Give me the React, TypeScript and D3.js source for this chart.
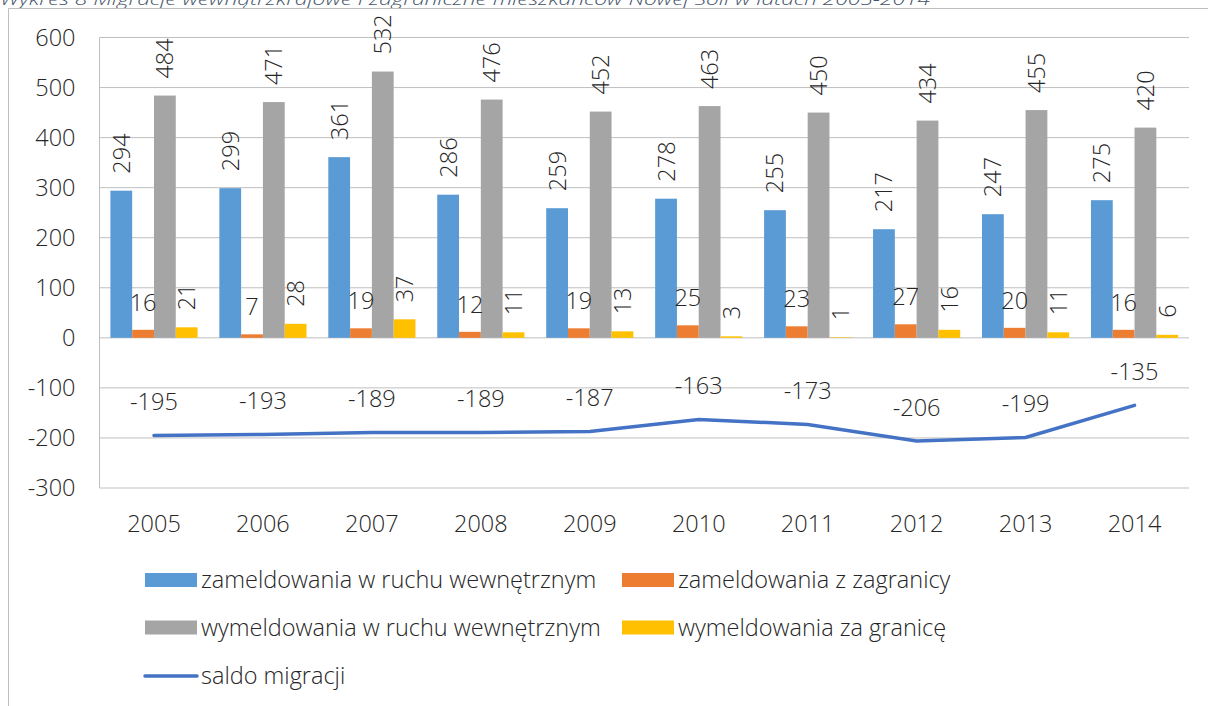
import React from 'react';
import * as d3 from 'd3';

const years = ['2005', '2006', '2007', '2008', '2009', '2010', '2011', '2012', '2013', '2014'];
const zamWew = [294, 299, 361, 286, 259, 278, 255, 217, 247, 275];
const zamZag = [16, 7, 19, 12, 19, 25, 23, 27, 20, 16];
const wymWew = [484, 471, 532, 476, 452, 463, 450, 434, 455, 420];
const wymZag = [21, 28, 37, 11, 13, 3, 1, 16, 11, 6];
const saldo = [-195, -193, -189, -189, -187, -163, -173, -206, -199, -135];
const yTicks = [600, 500, 400, 300, 200, 100, 0, -100, -200, -300];
const seriesNames = [
  'zameldowania w ruchu wewnętrznym',
  'zameldowania z zagranicy',
  'wymeldowania w ruchu wewnętrznym',
  'wymeldowania za granicę',
];
const lineName = 'saldo migracji';
const title = 'Wykres 8 Migracje wewnątrzkrajowe i zagraniczne mieszkańców Nowej Soli w latach 2005-2014';

const colors = ['#5B9BD5', '#ED7D31', '#A5A5A5', '#FFC000'];
const lineColor = '#4472C4';
const FONT = '"Open Sans", sans-serif';
const TXT = '#262626';

export default function App() {
  const W = 1208, H = 706;
  const left = 99.5, right = 1189, top = 37.5, bottom = 488;
  const y = d3.scaleLinear().domain([-300, 600]).range([bottom, top]);
  const x0 = d3.scaleBand<string>().domain(years).range([left, right]).paddingInner(0.2).paddingOuter(0.1);
  const keys = ['a', 'b', 'c', 'd'];
  const x1 = d3.scaleBand<string>().domain(keys).range([0, x0.bandwidth()]);
  const series = [zamWew, zamZag, wymWew, wymZag];
  const cx = (i: number) => (x0(years[i]) as number) + x0.bandwidth() / 2;
  const line = d3.line<number>().x((_, i) => cx(i)).y((d) => y(d));
  const fs = 23.5;
  const fw = 300;

  const legendItems = [
    { c: colors[0], t: seriesNames[0], x: 145, base: 588 },
    { c: colors[1], t: seriesNames[1], x: 622, base: 588 },
    { c: colors[2], t: seriesNames[2], x: 145, base: 635.5 },
    { c: colors[3], t: seriesNames[3], x: 622, base: 635.5 },
  ];

  return (
    <svg width={W} height={H} style={{ position: 'absolute', left: 0, top: 0, background: '#fff' }} fontFamily={FONT} fontWeight={fw}>
      <text x={0} y={5} fontSize={17} fontStyle="italic" fill="#44546A" textLength={930} lengthAdjust="spacingAndGlyphs">{title}</text>
      <path d={`M8.5,${H} V8.5 H${W}`} fill="none" stroke="#BFBFBF" strokeWidth={1} />
      {yTicks.map((t) => (
        <line key={t} x1={left} x2={right} y1={y(t)} y2={y(t)} stroke="#BFBFBF" strokeWidth={1} />
      ))}
      <line x1={left} x2={left} y1={top} y2={bottom} stroke="#BFBFBF" strokeWidth={1} />
      {yTicks.map((t) => (
        <text key={t} x={75.5} y={y(t)} dy="0.36em" textAnchor="end" fontSize={fs} fill={TXT}>{t}</text>
      ))}
      {years.map((yr, i) => (
        <text key={yr} x={cx(i)} y={532} textAnchor="middle" fontSize={fs} fill={TXT}>{yr}</text>
      ))}
      {series.map((vals, s) =>
        vals.map((v, i) => {
          const bx = (x0(years[i]) as number) + (x1(keys[s]) as number);
          const bw = x1.bandwidth();
          return <rect key={`${s}-${i}`} x={bx} y={y(v)} width={bw} height={y(0) - y(v)} fill={colors[s]} />;
        })
      )}
      {series.map((vals, s) =>
        vals.map((v, i) => {
          const bx = (x0(years[i]) as number) + (x1(keys[s]) as number) + x1.bandwidth() / 2;
          if (s === 1) {
            return (
              <text key={`l${s}-${i}`} x={bx} y={y(v) - 19} textAnchor="middle" fontSize={fs} fill={TXT}>{v}</text>
            );
          }
          const ly = y(v) - 17;
          return (
            <text key={`l${s}-${i}`} transform={`translate(${bx},${ly}) rotate(-90)`} x={0} y={0} dy="0.36em" textAnchor="start" fontSize={fs} fill={TXT}>{v}</text>
          );
        })
      )}
      <path d={line(saldo) || ''} fill="none" stroke={lineColor} strokeWidth={3.5} strokeLinecap="round" />
      {saldo.map((v, i) => (
        <text key={`s${i}`} x={cx(i)} y={y(v) - 25} textAnchor="middle" fontSize={fs} fill={TXT}>{v}</text>
      ))}
      {legendItems.map((l) => (
        <g key={l.t}>
          <rect x={l.x} y={l.base - 15} width={52} height={14} fill={l.c} />
          <text x={l.x + 56} y={l.base} fontSize={fs} fill={TXT}>{l.t}</text>
        </g>
      ))}
      <line x1={145} x2={197} y1={676} y2={676} stroke={lineColor} strokeWidth={3.5} strokeLinecap="round" />
      <text x={201} y={683.5} fontSize={fs} fill={TXT}>{lineName}</text>
    </svg>
  );
}
